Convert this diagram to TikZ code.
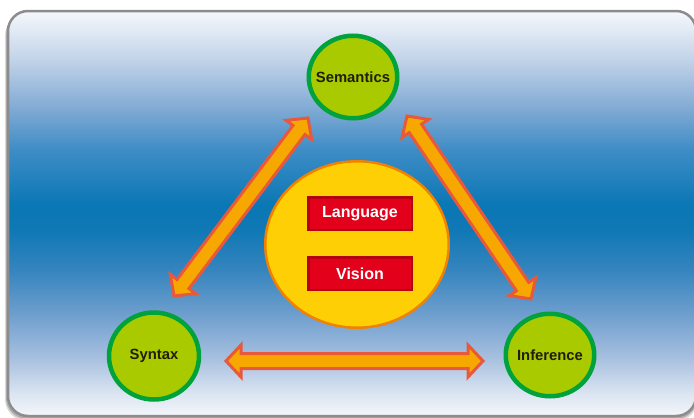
\documentclass[tikz,border=0pt]{standalone}
\usepackage{fontspec}
\setmainfont{Liberation Sans}
\usetikzlibrary{calc,shapes.geometric}

\definecolor{topicfill}{HTML}{AACA00}
\definecolor{topicline}{HTML}{00A23C}
\definecolor{topictext}{HTML}{1E1E0A}
\definecolor{corefill}{HTML}{FFCF05}
\definecolor{coreline}{HTML}{F08200}
\definecolor{fieldfill}{HTML}{E3001B}
\definecolor{fieldline}{HTML}{B5000F}
\definecolor{linkfill}{HTML}{F6A800}
\definecolor{linkline}{HTML}{E8593C}
\definecolor{panelline}{HTML}{8C8C8C}

% blue band behind everything, path spans 25bp..75bp
\pgfdeclareverticalshading{panel}{100bp}{%
  color(0bp)=(rgb,255:red,244;green,246;blue,250);
  color(25bp)=(rgb,255:red,244;green,246;blue,250);
  color(27.7bp)=(rgb,255:red,220;green,229;blue,242);
  color(32bp)=(rgb,255:red,169;green,193;blue,224);
  color(37.6bp)=(rgb,255:red,110;green,158;blue,206);
  color(43.1bp)=(rgb,255:red,53;green,132;blue,190);
  color(48bp)=(rgb,255:red,15;green,120;blue,181);
  color(51.1bp)=(rgb,255:red,11;green,119;blue,181);
  color(57.9bp)=(rgb,255:red,62;green,141;blue,198);
  color(62.8bp)=(rgb,255:red,127;green,169;blue,211);
  color(69bp)=(rgb,255:red,194;green,211;blue,232);
  color(75bp)=(rgb,255:red,245;green,248;blue,253);
  color(100bp)=(rgb,255:red,245;green,248;blue,253)}

\tikzset{
  topic/.style={ellipse, draw=topicline, line width=4.5pt, fill=topicfill,
    minimum width=88.5pt, minimum height=82.5pt, inner ysep=0pt, inner xsep=-10pt,
    text=topictext, font=\fontsize{14.8}{17}\selectfont\bfseries},
  core/.style={ellipse, draw=coreline, line width=2.5pt, fill=corefill,
    minimum width=183.5pt, minimum height=166.5pt},
  field/.style={rectangle, draw=fieldline, line width=2.5pt, fill=fieldfill,
    minimum width=103.5pt, minimum height=32.5pt, inner sep=0pt,
    text=white, font=\fontsize{16}{18}\selectfont\bfseries},
  link/.style={draw=linkline, fill=linkfill, line width=3pt, line join=miter},
}

% fat two-headed arrow between two tip points
\newcommand{\biarrow}[2]{%
  \path[link] (#1)
    -- ($(#1)!15pt!(#2)!16pt!90:(#2)$)
    -- ($(#1)!15pt!(#2)!7.5pt!90:(#2)$)
    -- ($(#2)!15pt!(#1)!7.5pt!-90:(#1)$)
    -- ($(#2)!15pt!(#1)!16pt!-90:(#1)$)
    -- (#2)
    -- ($(#2)!15pt!(#1)!16pt!90:(#1)$)
    -- ($(#2)!15pt!(#1)!7.5pt!90:(#1)$)
    -- ($(#1)!15pt!(#2)!7.5pt!-90:(#2)$)
    -- ($(#1)!15pt!(#2)!16pt!-90:(#2)$)
    -- cycle;}

\begin{document}
\begin{tikzpicture}[x=1pt,y=-1pt]
  \useasboundingbox (0,0) rectangle (694,418);

  % panel with its shadow
  \fill[black, opacity=0.15, rounded corners=22pt] (5,14) rectangle (698,421);
  \fill[black, opacity=0.2, rounded corners=21pt] (6,13) rectangle (697,419);
  \shadedraw[shading=panel, draw=panelline, line width=2.5pt,
    rounded corners=20pt] (8,11) rectangle (696,416);

  % the three corners
  \node[topic] (sem) at (353,77) {Semantics};
  \node[topic, minimum width=90pt, minimum height=87pt] (syn) at (154,356) {Syntax};
  \node[topic] (inf) at (550,355) {Inference};

  % middle
  \node[core] (core) at (357,244.5) {};
  \node[field] (lang) at (360,213.5) {Language};
  \node[field] (vis) at (360,273.5) {Vision};

  % arrow tips
  \coordinate (sem-l) at ($(sem)+(-45,41)$);
  \coordinate (sem-r) at ($(sem)+(54,39)$);
  \coordinate (syn-t) at ($(syn)+(20,-60)$);
  \coordinate (syn-r) at ($(syn)+(72,5)$);
  \coordinate (inf-t) at ($(inf)+(-19,-56)$);
  \coordinate (inf-l) at ($(inf)+(-67,6)$);

  \biarrow{syn-t}{sem-l}
  \biarrow{sem-r}{inf-t}
  \biarrow{syn-r}{inf-l}
\end{tikzpicture}
\end{document}
